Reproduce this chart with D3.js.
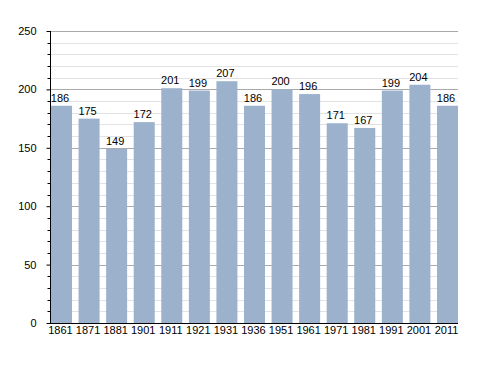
<!DOCTYPE html>
<html>
<head>
<meta charset="utf-8">
<script src="https://cdn.jsdelivr.net/npm/d3@7"></script>
<style>
  body { margin: 0; background: #fff; }
  text { font-family: "Liberation Sans", Arial, sans-serif; font-size: 11px; fill: #000; }
</style>
</head>
<body>
<div id="chart"></div>
<script>
const years = ['1861', '1871', '1881', '1901', '1911', '1921', '1931', '1936', '1951', '1961', '1971', '1981', '1991', '2001', '2011'];
const population = [186, 175, 149, 172, 201, 199, 207, 186, 200, 196, 171, 167, 199, 204, 186];
const majorTicks = [0, 50, 100, 150, 200, 250];
const minorTicks = d3.range(0, 251, 10);

const width = 488, height = 373;
const plotLeft = 50, plotRight = 458, plotTop = 31, plotBottom = 323;

const svg = d3.select('#chart').append('svg')
    .attr('width', width)
    .attr('height', height);

const y = d3.scaleLinear()
    .domain([0, 250])
    .range([plotBottom, plotTop]);

const x = d3.scaleBand()
    .domain(years)
    .range([51, 51 + 15 * 27.57]);

const barW = 21;

// minor grid
svg.selectAll('.minor')
  .data(minorTicks.filter(d => d % 50 !== 0))
  .enter().append('line')
    .attr('x1', plotLeft).attr('x2', plotRight)
    .attr('y1', d => Math.round(y(d)) + 0.5)
    .attr('y2', d => Math.round(y(d)) + 0.5)
    .style('stroke', '#e2e2e2');

// major grid
svg.selectAll('.major')
  .data(majorTicks.filter(d => d > 0))
  .enter().append('line')
    .attr('x1', plotLeft).attr('x2', plotRight)
    .attr('y1', d => Math.round(y(d)) + 0.5)
    .attr('y2', d => Math.round(y(d)) + 0.5)
    .style('stroke', '#aaaaaa');

// bars
svg.selectAll('.bar')
  .data(population)
  .enter().append('rect')
    .attr('class', 'bar')
    .attr('x', (d, i) => x(years[i]))
    .attr('y', d => y(d))
    .attr('width', barW)
    .attr('height', d => plotBottom - y(d))
    .style('fill', '#9bb1cc');

// value labels
svg.selectAll('.val')
  .data(population)
  .enter().append('text')
    .attr('x', (d, i) => x(years[i]) + barW / 2 - 1.5)
    .attr('y', d => y(d) - 4)
    .attr('text-anchor', 'middle')
    .text(d => d);

// axes
const yAxis = svg.append('g')
    .attr('transform', `translate(${plotLeft + 0.5},0)`)
    .call(d3.axisLeft(y).tickValues(majorTicks).tickSize(4).tickPadding(10));
yAxis.select('.domain').attr('d', `M0,${plotTop}V${plotBottom}`);
yAxis.selectAll('text').style('font-size', '11px').style('font-family', '"Liberation Sans", Arial, sans-serif');

svg.append('g')
    .attr('transform', `translate(${plotLeft + 0.5},0)`)
  .selectAll('line')
  .data(minorTicks.filter(d => d % 50 !== 0))
  .enter().append('line')
    .attr('x1', -3).attr('x2', 0)
    .attr('y1', d => Math.round(y(d)) + 0.5)
    .attr('y2', d => Math.round(y(d)) + 0.5)
    .style('stroke', '#000');

svg.append('line')
    .attr('x1', plotLeft).attr('x2', plotRight)
    .attr('y1', plotBottom + 0.5).attr('y2', plotBottom + 0.5)
    .style('stroke', '#000');

svg.selectAll('.year')
  .data(years)
  .enter().append('text')
    .attr('x', d => x(d) + barW / 2 - 1)
    .attr('y', 334)
    .attr('text-anchor', 'middle')
    .text(d => d);
</script>
</body>
</html>
